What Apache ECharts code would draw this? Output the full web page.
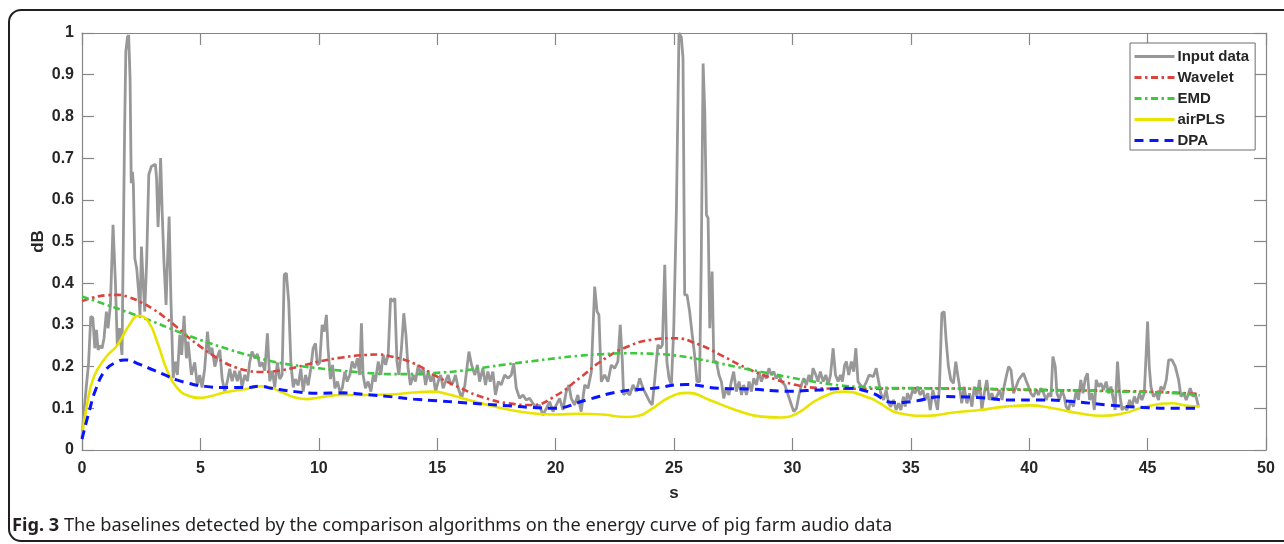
<!DOCTYPE html>
<html>
<head>
<meta charset="utf-8">
<script src="https://cdn.jsdelivr.net/npm/echarts@6/dist/echarts.min.js"></script>
<style>
  html, body { margin: 0; padding: 0; background: #fff; }
  #chart { width: 1284px; height: 544px; }
</style>
</head>
<body>
<div id="chart"></div>
<script>
// Energy curve of the audio recording: [time (s), level (dB, normalised)]
const inputData = [
  [0.00,0.03],[0.08,0.09],[0.18,0.15],[0.28,0.21],[0.37,0.32],[0.46,0.317],[0.54,0.244],[0.61,0.288],
  [0.68,0.24],[0.76,0.25],[0.85,0.244],[0.93,0.268],[1.03,0.332],[1.10,0.292],[1.20,0.348],[1.31,0.54],
  [1.41,0.404],[1.49,0.252],[1.58,0.292],[1.69,0.228],[1.80,0.77],[1.85,0.955],[1.92,0.99],[1.97,0.995],
  [2.03,0.89],[2.08,0.64],[2.13,0.667],[2.17,0.636],[2.23,0.46],[2.31,0.436],[2.39,0.38],[2.45,0.324],
  [2.51,0.488],[2.58,0.404],[2.65,0.332],[2.73,0.452],[2.82,0.66],[2.93,0.68],[3.10,0.685],[3.15,0.65],
  [3.21,0.535],[3.27,0.61],[3.32,0.70],[3.39,0.564],[3.46,0.452],[3.55,0.348],[3.61,0.452],[3.68,0.56],
  [3.75,0.372],[3.85,0.172],[3.94,0.212],[4.03,0.18],[4.13,0.276],[4.21,0.228],[4.31,0.322],[4.41,0.22],
  [4.48,0.26],[4.62,0.18],[4.76,0.21],[4.87,0.155],[4.97,0.18],[5.07,0.15],[5.18,0.195],[5.30,0.284],
  [5.39,0.23],[5.49,0.245],[5.61,0.2],[5.72,0.224],[5.82,0.24],[5.92,0.17],[6.03,0.14],[6.14,0.165],
  [6.24,0.195],[6.34,0.165],[6.45,0.19],[6.56,0.165],[6.66,0.19],[6.76,0.15],[6.87,0.18],[6.99,0.165],
  [7.08,0.21],[7.18,0.236],[7.30,0.22],[7.41,0.23],[7.51,0.2],[7.61,0.21],[7.72,0.19],[7.83,0.28],
  [7.93,0.165],[8.04,0.19],[8.14,0.15],[8.25,0.21],[8.35,0.17],[8.45,0.18],[8.54,0.42],[8.63,0.424],
  [8.73,0.355],[8.82,0.21],[8.92,0.15],[9.01,0.17],[9.13,0.155],[9.24,0.195],[9.34,0.14],[9.44,0.18],
  [9.55,0.155],[9.66,0.195],[9.76,0.244],[9.86,0.256],[9.94,0.204],[10.04,0.21],[10.14,0.30],[10.23,0.284],
  [10.32,0.324],[10.39,0.244],[10.49,0.17],[10.58,0.204],[10.68,0.148],[10.79,0.164],[10.89,0.14],[10.99,0.148],
  [11.10,0.188],[11.20,0.164],[11.31,0.18],[11.41,0.212],[11.52,0.196],[11.63,0.22],[11.73,0.18],[11.80,0.304],
  [11.87,0.18],[11.97,0.148],[12.08,0.164],[12.20,0.14],[12.30,0.18],[12.39,0.164],[12.51,0.212],[12.62,0.18],
  [12.72,0.228],[12.82,0.204],[12.93,0.228],[13.03,0.364],[13.11,0.356],[13.21,0.364],[13.30,0.212],[13.38,0.18],
  [13.49,0.244],[13.59,0.328],[13.68,0.276],[13.77,0.196],[13.87,0.156],[13.99,0.18],[14.08,0.164],[14.20,0.204],
  [14.31,0.18],[14.41,0.196],[14.51,0.156],[14.62,0.188],[14.73,0.164],[14.83,0.18],[14.93,0.14],[15.04,0.164],
  [15.15,0.18],[15.25,0.148],[15.35,0.164],[15.46,0.18],[15.58,0.156],[15.68,0.164],[15.77,0.18],[15.89,0.148],
  [16.03,0.124],[16.17,0.156],[16.34,0.236],[16.45,0.204],[16.59,0.18],[16.70,0.204],[16.79,0.164],[16.93,0.196],
  [17.04,0.156],[17.14,0.188],[17.24,0.164],[17.35,0.188],[17.46,0.132],[17.58,0.164],[17.70,0.156],[17.85,0.18],
  [17.99,0.172],[18.13,0.18],[18.23,0.208],[18.34,0.148],[18.48,0.124],[18.62,0.132],[18.76,0.12],[18.90,0.124],
  [19.04,0.112],[19.18,0.10],[19.32,0.108],[19.46,0.084],[19.61,0.10],[19.75,0.116],[19.89,0.092],[20.03,0.108],
  [20.17,0.124],[20.31,0.096],[20.45,0.14],[20.56,0.156],[20.66,0.124],[20.80,0.108],[20.94,0.132],[21.08,0.092],
  [21.23,0.156],[21.37,0.148],[21.51,0.188],[21.65,0.392],[21.75,0.332],[21.83,0.324],[21.93,0.164],[22.07,0.18],
  [22.21,0.164],[22.35,0.204],[22.49,0.196],[22.63,0.212],[22.73,0.30],[22.82,0.212],[22.87,0.132],[22.99,0.14],
  [23.13,0.132],[23.27,0.156],[23.41,0.14],[23.55,0.172],[23.69,0.148],[23.83,0.132],[23.97,0.116],[24.08,0.108],
  [24.18,0.164],[24.32,0.252],[24.42,0.244],[24.51,0.252],[24.61,0.444],[24.70,0.212],[24.79,0.172],[24.89,0.156],
  [24.99,0.292],[25.10,0.572],[25.21,1.0],[25.31,0.99],[25.38,0.94],[25.45,0.372],[25.55,0.372],[25.66,0.332],
  [25.77,0.276],[25.87,0.228],[25.97,0.164],[26.08,0.164],[26.15,0.452],[26.23,0.927],[26.30,0.81],[26.37,0.564],
  [26.44,0.556],[26.51,0.292],[26.61,0.428],[26.68,0.212],[26.79,0.212],[26.90,0.18],[27.00,0.164],[27.10,0.124],
  [27.21,0.148],[27.32,0.132],[27.42,0.164],[27.52,0.188],[27.63,0.14],[27.75,0.164],[27.85,0.132],[27.94,0.156],
  [28.06,0.132],[28.17,0.164],[28.27,0.14],[28.37,0.172],[28.48,0.156],[28.59,0.188],[28.69,0.164],[28.79,0.18],
  [28.90,0.172],[29.01,0.196],[29.11,0.18],[29.21,0.188],[29.32,0.172],[29.44,0.18],[29.54,0.164],[29.68,0.156],
  [29.82,0.132],[29.96,0.108],[30.06,0.092],[30.17,0.10],[30.28,0.132],[30.38,0.156],[30.48,0.172],[30.59,0.156],
  [30.70,0.18],[30.80,0.164],[30.87,0.196],[30.99,0.18],[31.08,0.164],[31.18,0.188],[31.30,0.164],[31.41,0.18],
  [31.51,0.156],[31.61,0.18],[31.72,0.244],[31.82,0.18],[31.93,0.164],[32.03,0.18],[32.11,0.164],[32.21,0.204],
  [32.28,0.212],[32.38,0.18],[32.49,0.212],[32.59,0.188],[32.68,0.244],[32.77,0.164],[32.87,0.156],[32.99,0.148],
  [33.13,0.164],[33.24,0.18],[33.42,0.176],[33.54,0.196],[33.63,0.168],[33.73,0.136],[33.85,0.12],[33.96,0.144],
  [34.06,0.112],[34.15,0.104],[34.27,0.12],[34.38,0.096],[34.48,0.112],[34.58,0.096],[34.69,0.128],[34.76,0.104],
  [34.86,0.136],[34.97,0.12],[35.08,0.144],[35.18,0.136],[35.28,0.152],[35.39,0.132],[35.51,0.144],[35.61,0.12],
  [35.72,0.136],[35.82,0.096],[35.93,0.144],[36.03,0.12],[36.13,0.096],[36.21,0.152],[36.31,0.328],[36.41,0.332],
  [36.49,0.264],[36.59,0.2],[36.69,0.168],[36.80,0.16],[36.90,0.212],[36.97,0.184],[37.06,0.152],[37.15,0.112],
  [37.25,0.152],[37.37,0.112],[37.48,0.136],[37.58,0.104],[37.68,0.152],[37.79,0.128],[37.90,0.168],[38.00,0.096],
  [38.10,0.136],[38.21,0.168],[38.31,0.12],[38.42,0.136],[38.52,0.12],[38.63,0.128],[38.75,0.144],[38.85,0.12],
  [38.94,0.152],[39.03,0.176],[39.13,0.2],[39.23,0.192],[39.34,0.136],[39.45,0.152],[39.55,0.168],[39.65,0.176],
  [39.76,0.184],[39.86,0.168],[39.97,0.152],[40.07,0.136],[40.18,0.128],[40.30,0.144],[40.39,0.132],[40.49,0.148],
  [40.61,0.136],[40.72,0.12],[40.82,0.136],[40.92,0.128],[41.00,0.224],[41.10,0.2],[41.17,0.136],[41.28,0.12],
  [41.38,0.144],[41.48,0.128],[41.56,0.104],[41.66,0.096],[41.76,0.12],[41.87,0.104],[41.99,0.144],[42.08,0.12],
  [42.18,0.168],[42.27,0.136],[42.37,0.172],[42.46,0.184],[42.55,0.12],[42.65,0.136],[42.75,0.096],[42.83,0.168],
  [42.93,0.152],[43.03,0.16],[43.14,0.144],[43.25,0.164],[43.35,0.136],[43.45,0.152],[43.56,0.12],[43.63,0.096],
  [43.73,0.212],[43.82,0.136],[43.92,0.096],[44.01,0.104],[44.13,0.096],[44.24,0.12],[44.34,0.104],[44.44,0.128],
  [44.55,0.112],[44.66,0.136],[44.76,0.12],[44.86,0.136],[44.94,0.232],[45.00,0.308],[45.07,0.2],[45.14,0.152],
  [45.25,0.128],[45.37,0.136],[45.46,0.12],[45.56,0.152],[45.68,0.144],[45.79,0.168],[45.89,0.216],[46.03,0.216],
  [46.17,0.2],[46.31,0.168],[46.41,0.128],[46.52,0.136],[46.63,0.12],[46.73,0.136],[46.80,0.148],[46.92,0.128],
  [47.01,0.136],[47.08,0.12],[47.15,0.104]
];

// Baselines estimated by each method
const waveletBaseline = [
  [0,0.357],[0.5,0.366],[1,0.371],[1.5,0.372],[2,0.366],[2.5,0.354],[3,0.338],[3.5,0.318],[4,0.295],
  [4.5,0.27],[5,0.248],[5.5,0.228],[6,0.21],[6.5,0.198],[7,0.19],[7.5,0.187],[8,0.188],[8.5,0.192],
  [9,0.198],[9.5,0.205],[10,0.212],[11,0.222],[12,0.228],[12.5,0.229],[13,0.225],[14,0.208],[15,0.176],
  [16,0.148],[17,0.125],[18,0.112],[19,0.108],[20,0.13],[21,0.172],[22,0.216],[23,0.247],[24,0.264],
  [25,0.268],[26,0.254],[27,0.227],[28,0.198],[29,0.175],[30,0.158],[31,0.149],[32,0.147],[33,0.147],
  [35,0.148],[40,0.144],[45,0.14],[47.2,0.134]
];
const emdBaseline = [
  [0,0.368],[1,0.349],[2,0.329],[3,0.308],[4,0.285],[5,0.264],[6,0.245],[7,0.228],[8,0.213],[9,0.203],
  [10,0.196],[11,0.19],[12,0.185],[13,0.182],[14,0.182],[15,0.185],[16,0.19],[17,0.198],[18,0.206],
  [19,0.213],[20,0.22],[21,0.226],[22,0.23],[23,0.232],[24,0.231],[25,0.227],[26,0.218],[27,0.207],
  [28,0.195],[29,0.184],[30,0.173],[31,0.163],[32,0.155],[33,0.151],[34,0.149],[36,0.148],[40,0.145],
  [44,0.14],[46,0.137],[47.2,0.131]
];
const airplsBaseline = [
  [0,0.032],[0.2,0.105],[0.5,0.175],[1,0.222],[1.5,0.252],[2,0.3],[2.4,0.322],[2.8,0.308],[3.2,0.255],
  [3.6,0.19],[4,0.15],[4.5,0.13],[5,0.125],[5.5,0.13],[6,0.138],[7,0.147],[7.6,0.153],[8,0.149],[8.5,0.137],
  [9,0.126],[9.5,0.122],[10,0.126],[11,0.132],[12,0.132],[13,0.133],[14,0.138],[14.8,0.14],[15.5,0.133],
  [16,0.125],[17,0.11],[18,0.097],[19,0.088],[20,0.085],[21,0.087],[22,0.085],[23,0.079],[23.5,0.082],
  [24,0.096],[24.8,0.126],[25.6,0.137],[26.5,0.12],[27.6,0.096],[28.7,0.08],[29.5,0.078],[30.2,0.088],
  [31.1,0.122],[32.2,0.14],[33.3,0.124],[33.7,0.112],[34.5,0.088],[35.7,0.082],[36.8,0.09],[37.9,0.096],
  [39,0.104],[40,0.107],[41,0.1],[42.1,0.088],[43.1,0.082],[44,0.088],[44.8,0.102],[46,0.112],[46.7,0.106],
  [47.2,0.104]
];
const dpaBaseline = [
  [0,0.026],[0.3,0.092],[0.6,0.148],[1,0.192],[1.5,0.212],[1.8,0.216],[2.5,0.204],[3,0.192],[3.5,0.18],
  [4,0.168],[4.5,0.16],[5,0.154],[6,0.15],[7,0.15],[7.5,0.153],[8,0.148],[9,0.14],[10,0.136],[11,0.137],
  [12,0.133],[13,0.128],[14,0.122],[15,0.118],[16,0.114],[17,0.11],[18,0.106],[19,0.102],[19.9,0.1],
  [21.3,0.12],[22.7,0.14],[24.1,0.148],[25.5,0.157],[26.9,0.148],[28.3,0.146],[29.7,0.141],[31.1,0.144],
  [32.3,0.148],[33.3,0.138],[34.3,0.114],[35,0.116],[36.4,0.128],[37.8,0.126],[39.2,0.12],[40.5,0.12],
  [41.9,0.116],[43.3,0.108],[44.8,0.102],[46.2,0.1],[47.2,0.1]
];

const seriesNames = ['Input data', 'Wavelet', 'EMD', 'airPLS', 'DPA'];
const xAxisTitle = 's';
const yAxisTitle = 'dB';
const captionLabel = 'Fig. 3';
const captionText = 'The baselines detected by the comparison algorithms on the energy curve of pig farm audio data';

const chart = echarts.init(document.getElementById('chart'), null, { renderer: 'canvas' });

const axisGray = '#868686';
const labelColor = '#262626';
const tickFont = { fontFamily: 'Liberation Sans, Arial, sans-serif', fontWeight: 'bold', fontSize: 16, color: labelColor };

function baseX(extra) {
  return Object.assign({
    type: 'value', min: 0, max: 50, interval: 5,
    axisLine: { show: true, onZero: false, lineStyle: { color: axisGray, width: 1.2 } },
    axisTick: { show: true, inside: true, length: 12, lineStyle: { color: axisGray, width: 1.2 } },
    splitLine: { show: false }
  }, extra);
}
function baseY(extra) {
  return Object.assign({
    type: 'value', min: 0, max: 1, interval: 0.1,
    axisLine: { show: true, onZero: false, lineStyle: { color: axisGray, width: 1.2 } },
    axisTick: { show: true, inside: true, length: 12, lineStyle: { color: axisGray, width: 1.2 } },
    splitLine: { show: false }
  }, extra);
}

const option = {
  animation: false,
  backgroundColor: '#ffffff',
  grid: { left: 82, right: 18, top: 33, bottom: 94, containLabel: false, outerBoundsMode: 'none' },
  xAxis: [
    baseX({
      position: 'bottom',
      name: xAxisTitle, nameLocation: 'middle', nameGap: 35, nameMoveOverlap: false,
      nameTextStyle: { fontFamily: 'Liberation Sans, Arial, sans-serif', fontWeight: 'bold', fontSize: 17, color: labelColor },
      axisLabel: Object.assign({ margin: 11, showMinLabel: true, showMaxLabel: true, hideOverlap: false }, tickFont)
    }),
    baseX({ position: 'top', axisLabel: { show: false } })
  ],
  yAxis: [
    baseY({
      position: 'left',
      name: yAxisTitle, nameLocation: 'middle', nameGap: 35, nameRotate: 90, nameMoveOverlap: false,
      nameTextStyle: { fontFamily: 'Liberation Sans, Arial, sans-serif', fontWeight: 'bold', fontSize: 17, color: labelColor },
      axisLabel: Object.assign({ margin: 8, showMinLabel: true, showMaxLabel: true, hideOverlap: false,
        formatter: v => String(+v.toFixed(1)) }, tickFont)
    }),
    baseY({ position: 'right', axisLabel: { show: false } })
  ],
  legend: {
    orient: 'vertical',
    left: 1130, top: 43,
    data: seriesNames,
    backgroundColor: '#ffffff',
    borderColor: '#6e6e6e', borderWidth: 1,
    padding: [6, 6, 2, 3],
    itemWidth: 40, itemHeight: 12, itemGap: 6,
    itemStyle: { opacity: 0 },
    lineStyle: { width: 3 },
    textStyle: { fontFamily: 'Liberation Sans, Arial, sans-serif', fontWeight: 'bold', fontSize: 15, color: labelColor, padding: [0, 0, 0, -2] }
  },
  series: [
    {
      name: seriesNames[0], type: 'line', data: inputData, symbol: 'none', smooth: false,
      lineStyle: { color: '#989898', width: 2.8 }, itemStyle: { color: '#989898' }, z: 2
    },
    {
      name: seriesNames[1], type: 'line', data: waveletBaseline, symbol: 'none', smooth: 0.5,
      lineStyle: { color: '#d9443f', width: 2.6, type: [7, 3.5, 2.5, 3.5] }, itemStyle: { color: '#d9443f' }, z: 3
    },
    {
      name: seriesNames[2], type: 'line', data: emdBaseline, symbol: 'none', smooth: 0.5,
      lineStyle: { color: '#3ec83e', width: 2.6, type: [7, 3.5, 2.5, 3.5] }, itemStyle: { color: '#3ec83e' }, z: 4
    },
    {
      name: seriesNames[3], type: 'line', data: airplsBaseline, symbol: 'none', smooth: 0.5,
      lineStyle: { color: '#e8e400', width: 2.6 }, itemStyle: { color: '#e8e400' }, z: 5
    },
    {
      name: seriesNames[4], type: 'line', data: dpaBaseline, symbol: 'none', smooth: 0.5,
      lineStyle: { color: '#0a14ff', width: 3, type: [9, 6] }, itemStyle: { color: '#0a14ff' }, z: 6
    }
  ],
  graphic: [
    {
      type: 'rect', z: -10, silent: true,
      shape: { x: 9, y: 10, width: 1300, height: 531, r: 12 },
      style: { fill: 'none', stroke: '#231f20', lineWidth: 2 }
    },
    {
      type: 'text', left: 12, top: 517, silent: true,
      style: {
        text: '{b|' + captionLabel + '} ' + captionText,
        fontFamily: 'Noto Sans, sans-serif', fontSize: 18.2, fill: '#231f20',
        rich: { b: { fontFamily: 'Noto Sans, sans-serif', fontSize: 18.2, fontWeight: 'bold', fill: '#231f20' } }
      }
    }
  ]
};

chart.setOption(option);
</script>
</body>
</html>
